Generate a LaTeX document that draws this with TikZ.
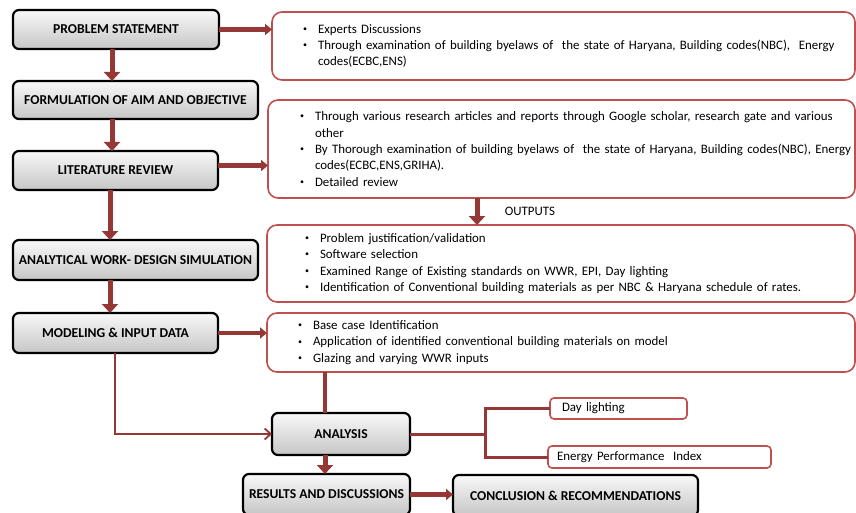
\documentclass[tikz,border=0pt]{standalone}
\usepackage{fontspec}
\setmainfont{Carlito}
\usepackage{tikz}
\usetikzlibrary{arrows.meta, calc, positioning}
\definecolor{linkred}{RGB}{149,55,53}
\definecolor{boxred}{RGB}{192,80,77}
\tikzstyle{stage} = [rectangle, rounded corners=6pt, line width=2.2pt, draw=black, top color=gray!5, bottom color=gray!45, inner sep=0pt, outer sep=0pt, text centered, font=\bfseries\fontsize{13.6}{15}\selectfont]
\tikzstyle{outbox} = [rectangle, rounded corners=10pt, line width=1.6pt, draw=boxred, fill=white, inner ysep=0pt, outer sep=0pt, align=left, font=\fontsize{12.9}{16.3}\selectfont]
\tikzstyle{tagbox} = [rectangle, rounded corners=4pt, line width=1.6pt, draw=boxred, fill=white, inner ysep=0pt, outer sep=0pt, align=left, font=\fontsize{12.9}{15}\selectfont]
\tikzstyle{downarrow} = [line width=5pt, draw=linkred, -{Triangle[length=9pt,width=16pt]}]
\tikzstyle{sidearrow} = [line width=4.5pt, draw=linkred, -{Triangle[length=7pt,width=11pt]}]
\tikzstyle{trunk} = [line width=4.5pt, draw=linkred]
\tikzstyle{branch} = [line width=3pt, draw=linkred]
\tikzstyle{thinarrow} = [line width=1.8pt, draw=linkred, -{Straight Barb[length=6pt,width=11pt]}]
\newcommand{\pointitem}[1]{\mbox{\makebox[15pt][l]{\raisebox{0.3ex}{\fontsize{8}{8}\selectfont\textbullet}}#1}}
\newcommand{\pointcont}[1]{\mbox{\hspace*{15pt}#1}}

\begin{document}
\begin{tikzpicture}[x=1pt, y=-1pt, node distance=30pt]
	\useasboundingbox (0,0) rectangle (856,513);
	% left column
	\node (problem) [stage, minimum width=206pt, minimum height=39pt, anchor=north west] at (13,10) {PROBLEM STATEMENT};
	\node (aim) [stage, minimum width=245pt, minimum height=38pt, below=32pt of problem.south west, anchor=north west] {FORMULATION OF AIM AND OBJECTIVE};
	\node (review) [stage, minimum width=205pt, minimum height=39pt, below=32pt of aim.south west, anchor=north west] {LITERATURE REVIEW};
	\node (design) [stage, minimum width=245pt, minimum height=40pt, below=50pt of review.south west, anchor=north west] {ANALYTICAL WORK- DESIGN SIMULATION};
	\node (model) [stage, minimum width=205pt, minimum height=40pt, below=33pt of design.south west, anchor=north west] {MODELING \& INPUT DATA};
	% right column
	\node (out1) [outbox, text width=521pt, inner xsep=31pt, minimum height=68pt, right=53pt of problem.north east, anchor=north west, yshift=-2pt] {\pointitem{Experts Discussions}\\
		\pointitem{Through examination of building byelaws of\ \ the state of Haryana, Building codes(NBC),\ \ Energy}\\
		\pointcont{codes(ECBC,ENS)}};
	\node (out2) [outbox, text width=523pt, inner xsep=32pt, minimum height=98pt, below=20pt of out1.south west, anchor=north west, xshift=-4pt] {\pointitem{Through various research articles and reports through Google scholar, research gate and various}\\
		\pointcont{other}\\
		\pointitem{By Thorough examination of building byelaws of\ \ the state of Haryana, Building codes(NBC), Energy}\\
		\pointcont{codes(ECBC,ENS,GRIHA).}\\
		\pointitem{Detailed review}};
	\node (out3) [outbox, text width=512pt, inner xsep=38pt, minimum height=77pt, below=27pt of out2.south west, anchor=north west, xshift=-1pt] {\pointitem{Problem justification/validation}\\
		\pointitem{Software selection}\\
		\pointitem{Examined Range of Existing standards on WWR, EPI, Day lighting}\\
		\pointitem{Identification of Conventional building materials as per NBC \& Haryana schedule of rates.}};
	\node (out4) [outbox, text width=526pt, inner xsep=31pt, minimum height=59pt, below=11pt of out3.south west, anchor=north west] {\pointitem{Base case Identification}\\
		\pointitem{Application of identified conventional building materials on model}\\
		\pointitem{Glazing and varying WWR inputs}};
	% bottom part
	\node (analysis) [stage, minimum width=138pt, minimum height=42pt, below=41pt of out4.south west, anchor=north west, xshift=5pt] {ANALYSIS};
	\node (results) [stage, minimum width=167pt, minimum height=41pt, below=19pt of analysis.south west, anchor=north west, xshift=-29pt] {RESULTS AND DISCUSSIONS};
	\node (conclusion) [stage, minimum width=245pt, minimum height=41pt, right=43pt of results.north east, anchor=north west, yshift=-1pt] {CONCLUSION \& RECOMMENDATIONS};
	\node (daylight) [tagbox, text width=113pt, inner xsep=12pt, minimum height=21pt, right=140pt of analysis.north east, anchor=north west, yshift=15pt] {Day lighting};
	\node (epi) [tagbox, text width=205pt, inner xsep=9pt, minimum height=22pt, below=27pt of daylight.south west, anchor=north west, xshift=-2pt] {Energy Performance\ \ Index};
	% helper columns
	\coordinate (spineA) at (112,0);
	\coordinate (spineB) at (110,0);
	\coordinate (spineC) at (115,0);
	\coordinate (outx) at (477,0);
	\coordinate (midx) at (325,0);
	\coordinate (fork) at (485,0);
	% connectors
	\draw [downarrow] (problem.south -| spineA) -- (aim.north -| spineA);
	\draw [downarrow] (aim.south -| spineA) -- (review.north -| spineA);
	\draw [downarrow] (review.south -| spineB) -- (design.north -| spineB);
	\draw [downarrow] (design.south -| spineB) -- (model.north -| spineB);
	\draw [sidearrow] (problem.east) -- (problem.east -| out1.west);
	\draw [sidearrow] ([yshift=5pt]review.east) -- ([yshift=5pt]review.east -| out2.west);
	\draw [sidearrow] (model.east) -- (model.east -| out4.west);
	\draw [downarrow] (out2.south -| outx) -- (out3.north -| outx) node[midway, right=22pt, font=\fontsize{12.9}{14}\selectfont] {OUTPUTS};
	\draw [trunk] (out4.south -| midx) -- (analysis.north -| midx);
	\draw [thinarrow] (model.south -| spineC) |- (analysis.west);
	\draw [downarrow] (analysis.south -| midx) -- (results.north -| midx);
	\draw [sidearrow] (results.east) -- (conclusion.west |- results.east);
	\draw [branch] (analysis.east) -- (analysis.east -| fork);
	\draw [branch] (daylight.west) -| (fork |- epi.west) -- (epi.west);
\end{tikzpicture}
\end{document}
